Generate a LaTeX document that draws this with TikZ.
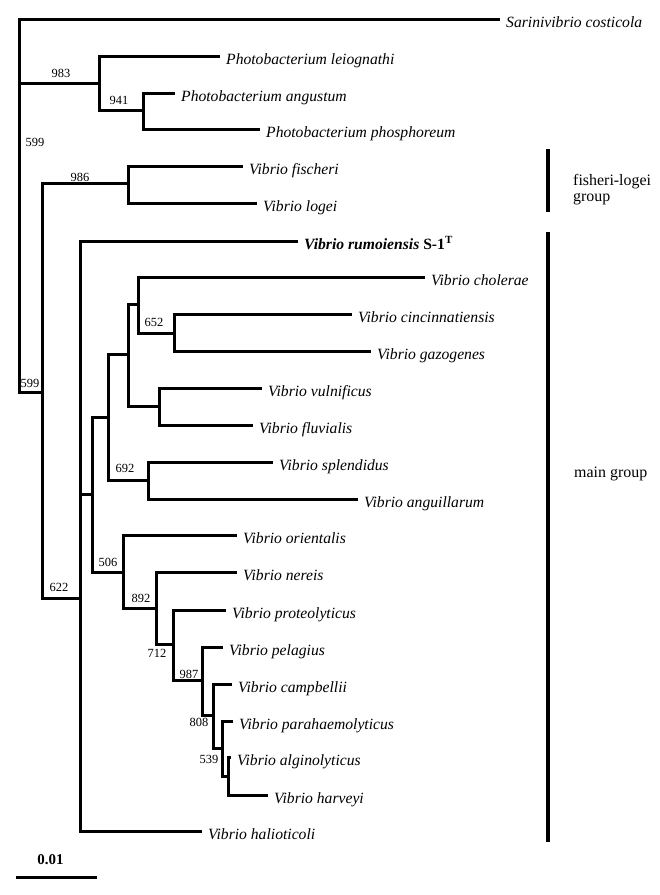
\documentclass[tikz,border=0pt]{standalone}
\usepackage{fontspec}
\setmainfont{Liberation Serif}
\begin{document}
\begin{tikzpicture}[x=1bp,y=-1bp,
  br/.style={line width=3bp, line join=miter},
  grpbar/.style={line width=4bp},
  lf/.style={anchor=base west, inner sep=0pt, xshift=6bp, yshift=-8bp, font=\fontsize{15.7}{18}\selectfont\itshape},
  bs/.style={inner sep=0pt, font=\fontsize{12.5}{14}\selectfont},
  grp/.style={inner sep=0pt, font=\fontsize{16}{16}\selectfont}]
\useasboundingbox (0,0) rectangle (660,895);
% internal nodes
\coordinate (r) at (19,83);
\coordinate (p983) at (99,83);
\coordinate (p941) at (143,110);
\coordinate (n599) at (42,392);
\coordinate (fl986) at (128,183);
\coordinate (n622) at (80,598);
\coordinate (na) at (92,494);
\coordinate (nb) at (108,417);
\coordinate (nc) at (128,354);
\coordinate (nd) at (138,304);
\coordinate (n652) at (174,333);
\coordinate (ne) at (159,406);
\coordinate (n692) at (148,480);
\coordinate (n506) at (123,572);
\coordinate (n892) at (156,608);
\coordinate (n712) at (173,644);
\coordinate (n987) at (202,680);
\coordinate (n808) at (213,715);
\coordinate (n539) at (222,748);
\coordinate (nf) at (228,776);
% leaf ends
\coordinate (lSari) at (500,19);
\coordinate (lLeio) at (220,56);
\coordinate (lAng) at (175,93);
\coordinate (lPho) at (260,129);
\coordinate (lFis) at (243,166);
\coordinate (lLog) at (257,203);
\coordinate (lRum) at (298,241);
\coordinate (lCho) at (425,277);
\coordinate (lCin) at (352,314);
\coordinate (lGaz) at (371,351);
\coordinate (lVul) at (262,388);
\coordinate (lFlu) at (253,425);
\coordinate (lSpl) at (273,462);
\coordinate (lAngu) at (358,499);
\coordinate (lOri) at (237,535);
\coordinate (lNer) at (237,572);
\coordinate (lPro) at (226,610);
\coordinate (lPel) at (223,647);
\coordinate (lCam) at (232,684);
\coordinate (lPar) at (233,721);
\coordinate (lAlg) at (231,757);
\coordinate (lHar) at (268,795);
\coordinate (lHal) at (202,831);
% branches
\draw[br] (r) |- (lSari);
\draw[br] (r) |- (p983);
\draw[br] (r) |- (n599);
\draw[br] (p983) |- (lLeio);
\draw[br] (p983) |- (p941);
\draw[br] (p941) |- (lAng);
\draw[br] (p941) |- (lPho);
\draw[br] (n599) |- (fl986);
\draw[br] (n599) |- (n622);
\draw[br] (fl986) |- (lFis);
\draw[br] (fl986) |- (lLog);
\draw[br] (n622) |- (lRum);
\draw[br] (n622) |- (na);
\draw[br] (n622) |- (lHal);
\draw[br] (na) |- (nb);
\draw[br] (na) |- (n506);
\draw[br] (nb) |- (nc);
\draw[br] (nb) |- (n692);
\draw[br] (nc) |- (nd);
\draw[br] (nc) |- (ne);
\draw[br] (nd) |- (lCho);
\draw[br] (nd) |- (n652);
\draw[br] (n652) |- (lCin);
\draw[br] (n652) |- (lGaz);
\draw[br] (ne) |- (lVul);
\draw[br] (ne) |- (lFlu);
\draw[br] (n692) |- (lSpl);
\draw[br] (n692) |- (lAngu);
\draw[br] (n506) |- (lOri);
\draw[br] (n506) |- (n892);
\draw[br] (n892) |- (lNer);
\draw[br] (n892) |- (n712);
\draw[br] (n712) |- (lPro);
\draw[br] (n712) |- (n987);
\draw[br] (n987) |- (lPel);
\draw[br] (n987) |- (n808);
\draw[br] (n808) |- (lCam);
\draw[br] (n808) |- (n539);
\draw[br] (n539) |- (lPar);
\draw[br] (n539) |- (nf);
\draw[br] (nf) |- (lAlg);
\draw[br] (nf) |- (lHar);
% leaf labels
\node[lf] (tSari) at (lSari) {Sarinivibrio costicola};
\node[lf] (tLeio) at (lLeio) {Photobacterium leiognathi};
\node[lf] (tAng) at (lAng) {Photobacterium angustum};
\node[lf] (tPho) at (lPho) {Photobacterium phosphoreum};
\node[lf] (tFis) at (lFis) {Vibrio fischeri};
\node[lf] (tLog) at (lLog) {Vibrio logei};
\node[lf] (tRum) at (lRum) {\bfseries Vibrio rumoiensis \upshape S-1\textsuperscript{T}};
\node[lf] (tCho) at (lCho) {Vibrio cholerae};
\node[lf] (tCin) at (lCin) {Vibrio cincinnatiensis};
\node[lf] (tGaz) at (lGaz) {Vibrio gazogenes};
\node[lf] (tVul) at (lVul) {Vibrio vulnificus};
\node[lf] (tFlu) at (lFlu) {Vibrio fluvialis};
\node[lf] (tSpl) at (lSpl) {Vibrio splendidus};
\node[lf] (tAngu) at (lAngu) {Vibrio anguillarum};
\node[lf] (tOri) at (lOri) {Vibrio orientalis};
\node[lf] (tNer) at (lNer) {Vibrio nereis};
\node[lf] (tPro) at (lPro) {Vibrio proteolyticus};
\node[lf] (tPel) at (lPel) {Vibrio pelagius};
\node[lf] (tCam) at (lCam) {Vibrio campbellii};
\node[lf] (tPar) at (lPar) {Vibrio parahaemolyticus};
\node[lf] (tAlg) at (lAlg) {Vibrio alginolyticus};
\node[lf] (tHar) at (lHar) {Vibrio harveyi};
\node[lf] (tHal) at (lHal) {Vibrio halioticoli};
% bootstrap values
\node[bs] (b983) at (61,73) {983};
\node[bs] (b941) at (119,100) {941};
\node[bs] (b599a) at (35,142) {599};
\node[bs] (b986) at (80,177) {986};
\node[bs] (b599b) at (30,383) {599};
\node[bs] (b622) at (59,587) {622};
\node[bs] (b652) at (154,322) {652};
\node[bs] (b692) at (125,468) {692};
\node[bs] (b506) at (108,562) {506};
\node[bs] (b892) at (141,598) {892};
\node[bs] (b712) at (157,653) {712};
\node[bs] (b987) at (189,674) {987};
\node[bs] (b808) at (199,722) {808};
\node[bs] (b539) at (209,759) {539};
% groups
\coordinate (g1t) at (548,149);
\coordinate (g1b) at (548,212);
\coordinate (g2t) at (548,232);
\coordinate (g2b) at (548,842);
\draw[grpbar] (g1t) -- (g1b);
\draw[grpbar] (g2t) -- (g2b);
\node[grp, anchor=north west, align=left] (gl1) at (573,174) {fisheri-logei\\group};
\node[grp, anchor=base west] (gl2) at (574,477) {main group};
% scale bar
\coordinate (sb1) at (16,877);
\coordinate (sb2) at (97,877);
\draw[br] (sb1) -- (sb2);
\node[inner sep=0pt, anchor=base, font=\fontsize{15}{16}\selectfont\bfseries] (sbl) at (50.5,864) {0.01};
\end{tikzpicture}
\end{document}
